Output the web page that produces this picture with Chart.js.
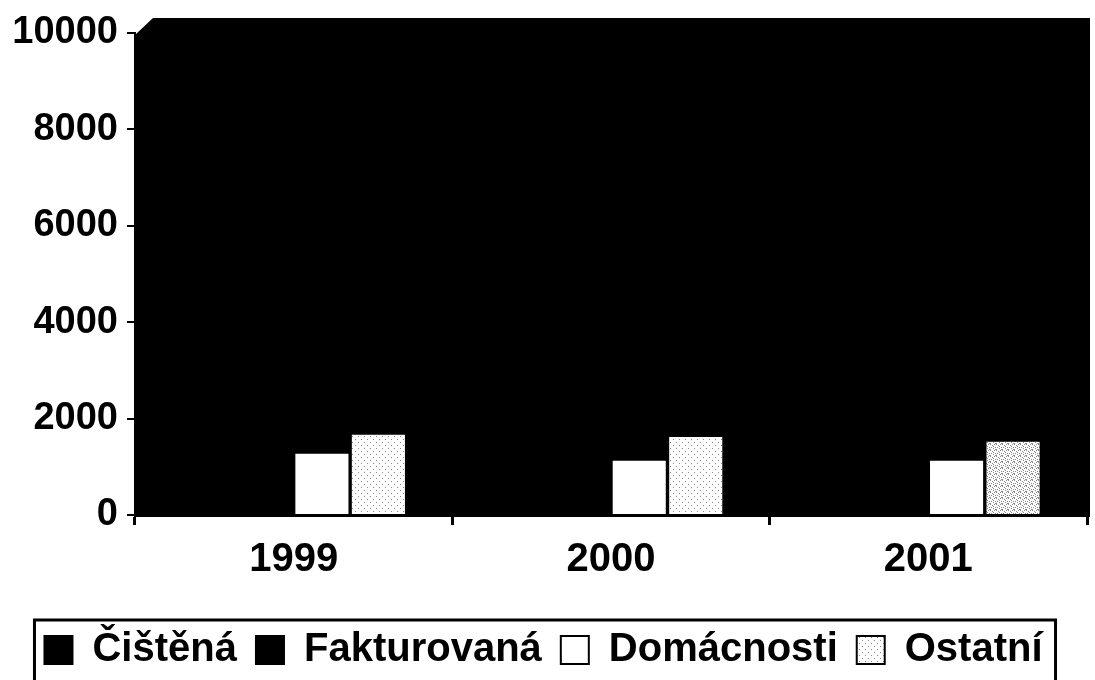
<!DOCTYPE html>
<html>
<head>
<meta charset="utf-8">
<script src="https://cdn.jsdelivr.net/npm/chart.js@4"></script>
<style>
  html, body { margin: 0; padding: 0; background: #fff; }
  #wrap { width: 1095px; height: 680px; position: relative; }
</style>
</head>
<body>
<div id="wrap"><canvas id="chart"></canvas></div>
<script>
(function () {
  "use strict";

  // ---- data ----
  var years = ["1999", "2000", "2001"];
  // the first two series are black bars on the black plot wall: estimates only
  var cistena = [9100, 8700, 8400];
  var fakturovana = [2950, 2750, 2650];
  var domacnosti = [1270, 1125, 1125];
  var ostatni = [1665, 1620, 1520];
  var yTicks = [0, 2000, 4000, 6000, 8000, 10000];

  var FONT = "'Liberation Sans', Arial, sans-serif";

  // speckled fill used for "Ostatní"
  function speckle(dots) {
    var c = document.createElement("canvas");
    c.width = 6; c.height = 6;
    var g = c.getContext("2d");
    g.fillStyle = "#ffffff";
    g.fillRect(0, 0, 6, 6);
    g.fillStyle = "#8a8a8a";
    dots.forEach(function (d) { g.fillRect(d[0], d[1], 1, 1); });
    return g.createPattern(c, "repeat");
  }
  var light = speckle([[1, 1], [4, 4]]);
  var dense = speckle([[0, 0], [2, 1], [4, 0], [1, 3], [3, 2], [5, 3], [0, 5], [3, 4], [5, 5]]);

  // black 3D-ish wall behind the bars
  var wall = {
    id: "wall",
    beforeDraw: function (chart) {
      var a = chart.chartArea, ctx = chart.ctx;
      ctx.save();
      ctx.fillStyle = "#000";
      ctx.beginPath();
      ctx.moveTo(a.left, a.top + 2);
      ctx.lineTo(a.left + 18, a.top - 15);
      ctx.lineTo(a.right + 3, a.top - 15);
      ctx.lineTo(a.right + 3, a.bottom + 2);
      ctx.lineTo(a.left, a.bottom + 2);
      ctx.closePath();
      ctx.fill();
      ctx.restore();
    }
  };

  // frame around the legend
  var legendFrame = {
    id: "legendFrame",
    afterDraw: function (chart) {
      var lg = chart.legend;
      if (!lg || !lg.legendHitBoxes.length) return;
      var boxes = lg.legendHitBoxes;
      var left = Math.min.apply(null, boxes.map(function (b) { return b.left; }));
      var right = Math.max.apply(null, boxes.map(function (b) { return b.left + b.width; }));
      var ctx = chart.ctx;
      ctx.save();
      ctx.strokeStyle = "#000";
      ctx.lineWidth = 3;
      ctx.beginPath();
      ctx.moveTo(left - 10, chart.height + 5);
      ctx.lineTo(left - 10, lg.top + 9);
      ctx.lineTo(right + 13, lg.top + 9);
      ctx.lineTo(right + 13, chart.height + 5);
      ctx.stroke();
      ctx.restore();
    }
  };

  new Chart(document.getElementById("chart"), {
    type: "bar",
    data: {
      labels: years,
      datasets: [
        { label: "Čištěná", data: cistena, backgroundColor: "#000" },
        { label: "Fakturovaná", data: fakturovana, backgroundColor: "#000" },
        { label: "Domácnosti", data: domacnosti, backgroundColor: "#fff" },
        { label: "Ostatní", data: ostatni, backgroundColor: [light, light, dense] }
      ]
    },
    options: {
      responsive: true,
      maintainAspectRatio: false,
      animation: false,
      layout: { padding: { top: 33, right: 8, left: 0, bottom: 0 } },
      datasets: { bar: { categoryPercentage: 0.712, barPercentage: 0.94, borderWidth: 0 } },
      plugins: {
        tooltip: { enabled: false },
        legend: {
          position: "bottom",
          labels: {
            color: "#000",
            font: { family: FONT, size: 40, weight: "bold" },
            boxWidth: 28,
            boxHeight: 28,
            padding: 19,
            generateLabels: function (chart) {
              var items = Chart.defaults.plugins.legend.labels.generateLabels(chart);
              items.forEach(function (it) {
                it.strokeStyle = "#000";
                it.lineWidth = 2;
              });
              return items;
            }
          }
        }
      },
      scales: {
        x: {
          grid: { display: true, drawOnChartArea: false, drawTicks: true, tickLength: 10, color: "#000", lineWidth: 3 },
          border: { display: true, color: "#000", width: 3 },
          ticks: { color: "#000", padding: 11, font: { family: FONT, size: 40, weight: "bold" } },
          afterFit: function (s) { s.height = 96; }
        },
        y: {
          min: yTicks[0],
          max: yTicks[yTicks.length - 1],
          afterBuildTicks: function (s) {
            s.ticks = yTicks.map(function (v) { return { value: v }; });
          },
          grid: { display: true, drawOnChartArea: false, drawTicks: true, tickLength: 8, color: "#000", lineWidth: 2 },
          border: { display: true, color: "#000", width: 2 },
          ticks: {
            color: "#000",
            padding: 9,
            font: { family: FONT, size: 38, weight: "bold" },
            callback: function (v) { return String(v); }
          },
          afterFit: function (s) { s.width = 135; }
        }
      }
    },
    plugins: [wall, legendFrame]
  });
})();
</script>
</body>
</html>
